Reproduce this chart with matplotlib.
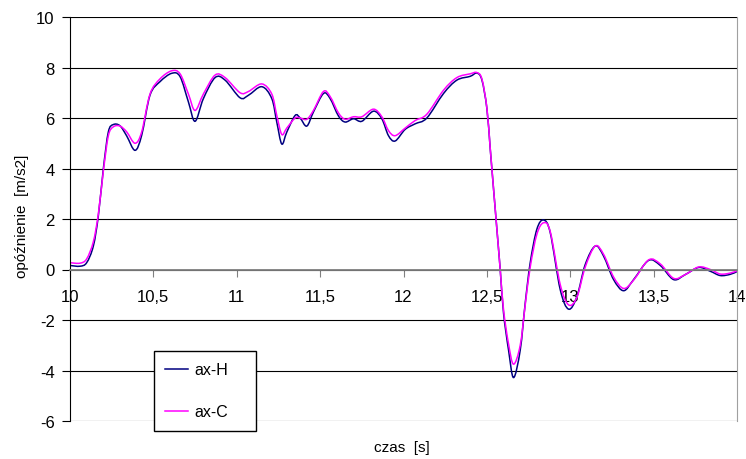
import matplotlib
matplotlib.use('Agg')
import matplotlib.pyplot as plt
import numpy as np
from matplotlib.path import Path
from matplotlib.patches import PathPatch
from matplotlib.lines import Line2D

plt.rcParams['font.family'] = ['Liberation Sans', 'DejaVu Sans']

# czas [s]
czas = [10.00, 10.06, 10.10, 10.14, 10.17, 10.20, 10.23, 10.26, 10.30, 10.34,
        10.39, 10.43, 10.48, 10.54, 10.61, 10.66, 10.71, 10.75, 10.80, 10.87,
        10.93, 11.02, 11.07, 11.15, 11.21, 11.24, 11.27, 11.30, 11.35, 11.38,
        11.42, 11.46, 11.52, 11.56, 11.61, 11.65, 11.70, 11.75, 11.82, 11.87,
        11.91, 11.95, 12.01, 12.07, 12.14, 12.24, 12.32, 12.40, 12.44, 12.47,
        12.50, 12.52, 12.54, 12.56, 12.58, 12.60, 12.63, 12.66, 12.70, 12.73,
        12.76, 12.80, 12.84, 12.88, 12.94, 12.99, 13.04, 13.09, 13.15, 13.20,
        13.26, 13.32, 13.38, 13.47, 13.54, 13.62, 13.69, 13.77, 13.84, 13.90,
        13.96, 14.00]

ax_H = [0.16, 0.13, 0.27, 0.93, 2.13, 3.99, 5.45, 5.74, 5.69, 5.29,
        4.72, 5.32, 6.91, 7.44, 7.77, 7.64, 6.64, 5.87, 6.77, 7.60,
        7.50, 6.80, 6.90, 7.24, 6.77, 5.84, 4.97, 5.44, 6.10, 6.00,
        5.68, 6.24, 6.97, 6.77, 6.08, 5.84, 5.97, 5.87, 6.27, 5.97,
        5.30, 5.09, 5.55, 5.77, 6.00, 6.97, 7.50, 7.65, 7.78, 7.51,
        6.38, 4.79, 3.19, 1.60, 0.00, -1.73, -3.19, -4.28, -3.19, -1.33,
        0.27, 1.60, 1.96, 1.46, -0.80, -1.57, -1.07, 0.20, 0.93, 0.53,
        -0.40, -0.84, -0.40, 0.36, 0.16, -0.40, -0.20, 0.08, -0.07, -0.24,
        -0.19, -0.08]

ax_C = [0.27, 0.25, 0.42, 1.10, 2.20, 3.90, 5.30, 5.65, 5.68, 5.45,
        5.00, 5.45, 6.95, 7.55, 7.87, 7.75, 6.95, 6.30, 6.95, 7.70,
        7.60, 7.00, 7.05, 7.35, 6.95, 6.10, 5.35, 5.60, 6.00, 6.00,
        5.95, 6.30, 7.05, 6.85, 6.20, 5.95, 6.05, 6.05, 6.35, 6.05,
        5.50, 5.30, 5.60, 5.90, 6.15, 7.10, 7.60, 7.75, 7.80, 7.55,
        6.40, 4.80, 3.20, 1.60, 0.00, -1.60, -2.95, -3.75, -3.00, -1.40,
        0.10, 1.40, 1.85, 1.50, -0.60, -1.40, -1.10, 0.10, 0.93, 0.60,
        -0.30, -0.75, -0.42, 0.38, 0.22, -0.35, -0.20, 0.10, 0.00, -0.18,
        -0.14, -0.05]

xticks = [10, 10.5, 11, 11.5, 12, 12.5, 13, 13.5, 14]
xlabels = ['10', '10,5', '11', '11,5', '12', '12,5', '13', '13,5', '14']
yticks = [-6, -4, -2, 0, 2, 4, 6, 8, 10]


def gladka(x, y):
    # linia wygladzona jak w Excelu (krzywe Beziera przez punkty pomiarowe)
    p = np.column_stack([x, y])
    n = len(p)
    verts = [p[0]]
    codes = [Path.MOVETO]
    for i in range(n - 1):
        p0 = p[i - 1] if i > 0 else p[i]
        p1 = p[i]
        p2 = p[i + 1]
        p3 = p[i + 2] if i + 2 < n else p[i + 1]
        verts += [p1 + (p2 - p0) / 6, p2 - (p3 - p1) / 6, p2]
        codes += [Path.CURVE4] * 3
    return Path(verts, codes)


fig = plt.figure(figsize=(7.46, 4.6), dpi=100)
ax = fig.add_axes([70/746, 1-422/460, 667/746, 404/460])

ax.add_patch(PathPatch(gladka(czas, ax_H), facecolor='none', edgecolor='#000080', lw=1.1))
ax.add_patch(PathPatch(gladka(czas, ax_C), facecolor='none', edgecolor='#ff00ff', lw=1.1))

ax.set_xlim(10, 14)
ax.set_ylim(-6, 10)
ax.set_yticks(yticks)
ax.set_yticklabels([str(v) for v in yticks])
ax.set_xticks(xticks)
ax.set_xticklabels(xlabels)

ax.yaxis.grid(True, color='black', lw=0.8)
ax.set_axisbelow(True)

ax.spines['bottom'].set_position(('data', 0))
ax.spines['bottom'].set_color('#808080')
ax.spines['bottom'].set_linewidth(1.3)
ax.spines['top'].set_visible(False)
ax.spines['right'].set_color('#a0a0a0')
ax.spines['left'].set_color('black')

ax.tick_params(axis='y', direction='out', length=6, width=0.8, labelsize=12, pad=5)
ax.tick_params(axis='x', direction='out', length=5, width=0.8, color='#808080',
               labelsize=12, pad=9)

fig.text(22/746, 1-216/460, 'opóźnienie  [m/s2]', rotation=90,
         ha='center', va='center', fontsize=11)
fig.text(402/746, 1-448/460, 'czas  [s]', ha='center', va='center', fontsize=11)

uchwyty = [Line2D([], [], color='#000080', lw=1.1),
           Line2D([], [], color='#ff00ff', lw=1.1)]
leg = fig.legend(uchwyty, ['ax-H', 'ax-C'], loc='upper left',
                 bbox_to_anchor=(154/746, 1-352/460, 102/746, 0.0),
                 mode='expand', borderaxespad=0, fontsize=11.5, frameon=True,
                 fancybox=False, edgecolor='black', framealpha=1,
                 handlelength=1.4, handletextpad=0.4, labelspacing=1.7,
                 borderpad=0.7)
leg.get_frame().set_linewidth(1.0)

fig.savefig('out.png', dpi=100)
